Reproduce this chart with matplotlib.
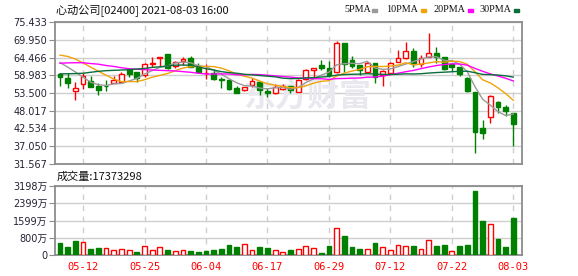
import matplotlib
matplotlib.use('Agg')
import matplotlib.pyplot as plt
from matplotlib.patches import Rectangle
import numpy as np
import pandas as pd

# ---------------- data ----------------
dates = ['05-07', '05-10', '05-11', '05-12', '05-13', '05-14', '05-17', '05-18', '05-20', '05-21',
         '05-24', '05-25', '05-26', '05-27', '05-28', '05-31', '06-01', '06-02', '06-03', '06-04',
         '06-07', '06-08', '06-09', '06-10', '06-11', '06-15', '06-16', '06-17', '06-18', '06-21',
         '06-22', '06-23', '06-24', '06-25', '06-28', '06-29', '06-30', '07-02', '07-05', '07-06',
         '07-07', '07-08', '07-09', '07-12', '07-13', '07-14', '07-15', '07-16', '07-19', '07-20',
         '07-21', '07-22', '07-23', '07-26', '07-27', '07-28', '07-29', '07-30', '08-02', '08-03']
tick_dates = ['05-12', '05-25', '06-04', '06-17', '06-29', '07-12', '07-22', '08-03']

open_ = [59.37, 58.03, 54.22, 56.17, 57.15, 55.66, 55.70, 56.69, 57.00, 60.81,
         59.88, 59.06, 62.50, 64.20, 65.55, 61.84, 63.49, 64.41, 61.84, 59.65,
         59.57, 57.80, 57.51, 55.14, 54.42, 55.97, 57.00, 54.10, 53.39, 54.60,
         55.66, 53.91, 57.72, 60.70, 62.25, 61.12, 60.09, 69.05, 63.69, 62.25,
         60.09, 62.87, 59.06, 59.57, 63.18, 64.21, 66.47, 62.35, 64.72, 65.75,
         64.52, 62.35, 61.43, 58.23, 53.91, 42.79, 45.98, 50.82, 49.27, 47.21]
high = [59.57, 59.57, 56.79, 59.57, 58.80, 56.69, 57.51, 58.75, 60.09, 60.90,
        60.00, 62.87, 64.72, 64.50, 65.60, 63.49, 64.72, 64.93, 62.87, 62.46,
        60.81, 58.30, 57.70, 55.66, 55.45, 58.00, 57.00, 54.94, 56.28, 56.30,
        55.70, 57.80, 60.80, 61.35, 63.69, 63.49, 69.56, 69.10, 64.93, 62.30,
        62.97, 62.90, 60.60, 63.20, 66.78, 69.15, 67.30, 65.20, 71.93, 67.80,
        64.72, 62.35, 61.63, 58.54, 53.91, 45.16, 52.88, 51.03, 49.79, 47.30]
low = [55.76, 55.14, 51.33, 54.73, 55.30, 52.88, 54.22, 56.47, 56.69, 58.54,
       57.00, 58.54, 61.50, 61.40, 61.00, 61.12, 62.15, 61.43, 59.80, 57.72,
       57.40, 54.94, 54.40, 53.40, 54.20, 55.45, 52.88, 52.36, 53.30, 54.40,
       53.60, 53.70, 57.50, 58.54, 60.60, 58.54, 59.80, 60.09, 61.12, 59.06,
       59.80, 56.48, 55.66, 59.40, 63.00, 64.00, 61.63, 61.63, 64.50, 62.66,
       60.60, 60.40, 58.75, 53.90, 35.06, 39.29, 44.13, 47.21, 46.39, 37.12]
close = [58.34, 56.69, 54.94, 58.75, 55.45, 54.42, 55.60, 57.41, 59.30, 59.40,
         58.23, 62.46, 62.70, 64.50, 61.20, 62.97, 63.90, 61.63, 59.88, 59.70,
         57.70, 57.65, 54.63, 53.60, 55.25, 57.20, 54.42, 53.40, 55.45, 55.60,
         54.42, 57.51, 60.60, 61.30, 61.20, 59.06, 68.84, 62.35, 61.94, 60.60,
         62.66, 58.54, 60.29, 62.66, 64.21, 66.47, 62.35, 64.41, 65.75, 64.52,
         60.91, 61.63, 59.37, 54.11, 41.55, 41.24, 52.57, 49.27, 48.04, 43.92]
prev_close0 = 59.6

volume_wan = [572, 371, 664, 603, 278, 324, 309, 232, 263, 232,
              155, 402, 232, 355, 232, 185, 232, 201, 155, 201,
              232, 263, 448, 371, 494, 232, 355, 324, 232, 124,
              232, 263, 417, 309, 93, 417, 1236, 881, 371, 278,
              263, 556, 355, 216, 448, 402, 402, 263, 680, 402,
              448, 170, 402, 448, 2966, 1576, 1421, 742, 371, 1737.3298]
last_volume = 17373298

# moving-average values at the left edge (history before the window)
ma5_head = [62.9, 61.5, 60.0, 58.4]
ma10_head = [65.2, 64.8, 64.0, 62.8, 61.5, 60.2, 59.0, 57.8, 57.0]
ma20_head = [62.7, 62.8, 62.85, 62.85, 62.6, 62.4, 62.0, 61.7, 61.3, 61.0,
             60.85, 60.7, 60.6, 60.5, 60.4, 60.3, 60.1, 59.9, 59.6]
ma30_head = [59.4, 59.45, 59.5, 59.6, 59.9, 60.2, 60.4, 60.5, 60.6, 60.7,
             60.9, 61.1, 61.4, 61.6, 61.85, 62.1, 62.15, 62.05, 61.6, 61.0,
             60.6, 60.1, 59.8, 59.6, 59.3, 59.1, 58.9, 58.7, 58.5]

price_ticks = [31.567, 37.050, 42.534, 48.017, 53.500, 58.983, 64.466, 69.950, 75.433]
vol_ticks_wan = [0, 800, 1599, 2399, 3198]

ma_names = ['5PMA', '10PMA', '20PMA', '30PMA']
ma_colors = ['#9a9a9a', '#f0a30a', '#ff00ff', '#0a6e3c']

# ---------------- derived ----------------
o = np.array(open_); h = np.array(high); l = np.array(low); c = np.array(close)
x = np.arange(len(c))

def moving_avg(n, head):
    s = pd.Series(c).rolling(n).mean().to_numpy()
    s[:n - 1] = head
    return s

mas = [moving_avg(5, ma5_head), moving_avg(10, ma10_head),
       moving_avg(20, ma20_head), moving_avg(30, ma30_head)]

RED = '#ff0000'
GREEN = '#008000'
cand_up = c >= o
cand_col = np.where(cand_up, RED, GREEN)
cand_face = np.where(cand_up, 'white', GREEN)
prev = np.concatenate([[prev_close0], c[:-1]])
vol_up = c > prev
vol_col = np.where(vol_up, RED, GREEN)
vol_face = np.where(vol_up, 'white', GREEN)

# ---------------- figure ----------------
W, H = 578, 276
fig = plt.figure(figsize=(W / 100, H / 100), dpi=100)

def rect(left, top, right, bottom):
    return [left / W, 1 - bottom / H, (right - left) / W, (bottom - top) / H]

ax1 = fig.add_axes(rect(55, 22, 522, 164))
ax2 = fig.add_axes(rect(55, 186, 522, 255))

tick_idx = [dates.index(d) for d in tick_dates]
xlim = (-0.65, len(c) + 0.13)
SPINE = '#8c8c8c'
GRID = '#cfcfcf'
CJK = ['Noto Sans CJK SC', 'DejaVu Sans']

for ax in (ax1, ax2):
    ax.set_xlim(*xlim)
    for s in ax.spines.values():
        s.set_color(SPINE)
        s.set_linewidth(1.3)
    ax.set_xticks(tick_idx)
    ax.xaxis.grid(True, color=GRID, lw=1, ls=(0, (4, 4)))
    ax.yaxis.grid(True, color=GRID, lw=1)
    ax.set_axisbelow(True)
    ax.tick_params(axis='y', length=4, color=SPINE, pad=1.5, labelsize=7, labelcolor='#222233')
    ax.tick_params(axis='x', length=0)

# price panel
ax1.set_ylim(price_ticks[0], price_ticks[-1])
ax1.set_yticks(price_ticks)
ax1.set_yticklabels([f'{v:.3f}' for v in price_ticks])
ax1.set_xticklabels([])

ax1.text(0.54, 0.47, '东方财富', transform=ax1.transAxes, fontsize=23,
         color='#e8e8ee', ha='center', va='center', fontweight='bold',
         family=CJK, zorder=1)

ax1.vlines(x, l, h, colors=cand_col, lw=1, zorder=2)
body_h = np.maximum(np.abs(c - o), 0.03)
ax1.bar(x, body_h, 0.62, bottom=np.minimum(o, c), color=cand_face,
        edgecolor=cand_col, lw=1, zorder=3)
for m, col in zip(mas, ma_colors):
    ax1.plot(x, m, color=col, lw=1, zorder=4)

# volume panel
vol = np.array(volume_wan) * 1e4
ax2.set_ylim(0, vol_ticks_wan[-1] * 1e4)
ax2.set_yticks([v * 1e4 for v in vol_ticks_wan])
ax2.set_yticklabels([f'{v}万' if v else '0' for v in vol_ticks_wan],
                    family=['DejaVu Sans', 'Noto Sans CJK SC'])
ax2.bar(x, vol, 0.62, color=vol_face, edgecolor=vol_col, lw=1, zorder=3)
ax2.set_xticklabels(tick_dates, color=RED, fontsize=7.5, family='DejaVu Sans Mono')
ax2.tick_params(axis='x', pad=5)

# header texts
fig.text(56 / W, 1 - 10 / H, '心动公司[02400] 2021-08-03 16:00', va='center', ha='left',
         fontsize=8, family=CJK, color='#111111')
leg_x = [344, 386, 433, 479]
for name, col, lx in zip(ma_names, ma_colors, leg_x):
    fig.text(lx / W, 1 - 10 / H, name, va='center', ha='left', fontsize=7.3,
             family='Liberation Serif', color='#111111')
    sq_x = lx + 6.6 * len(name) + 2
    fig.patches.append(Rectangle((sq_x / W, 1 - 12 / H), 5 / W, 3.5 / H,
                                 transform=fig.transFigure, color=col))

fig.text(57 / W, 1 - 177 / H, f'成交量:{last_volume}', va='center', ha='left',
         fontsize=8, family=CJK, color='#111111')

fig.savefig('out.png', dpi=100)
